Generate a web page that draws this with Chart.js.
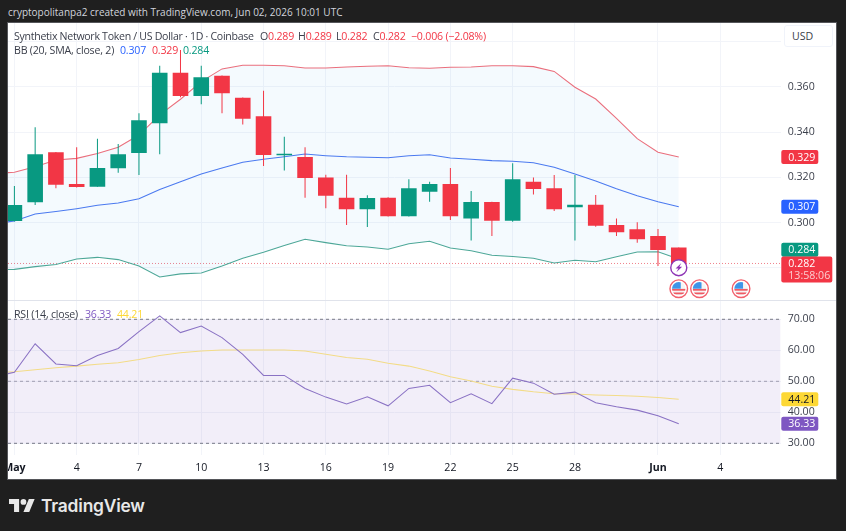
<!DOCTYPE html>
<html>
<head>
<meta charset="utf-8">
<title>SNX / USD</title>
<script src="https://cdn.jsdelivr.net/npm/chart.js@4"></script>
<style>
    html, body { margin: 0; padding: 0; background: #1f1f1f; }
    body { position: relative; width: 846px; height: 531px; overflow: hidden; font-family: 'Open Sans', sans-serif; }
    #panel { position: absolute; left: 8px; top: 23px; width: 828px; height: 456px; background: #fff; box-shadow: 0 0 0 1px #55565a; }
    canvas { position: absolute; left: 8px; }
    #chart_price { top: 23px; }
    #chart_rsi { top: 301px; }
    #divider { position: absolute; left: 8px; top: 300px; width: 828px; height: 1px; background: #e0e3eb; }
    .txt { position: absolute; white-space: nowrap; font-size: 10.6px; line-height: 14px; color: #3a3e4a; letter-spacing: -0.2px; }
    .red { color: #f23645; }
    .blue { color: #2962ff; }
    .green { color: #089981; }
    #banner { left: 8px; top: 5px; color: #d1d4dc; font-size: 10px; letter-spacing: 0; }
    #symbol { left: 14px; top: 29px; letter-spacing: -0.3px; }
    #usd { position: absolute; left: 784px; top: 25px; width: 49px; height: 22px; box-sizing: border-box; border: 1px solid #f0f3fa; border-radius: 3px; background: #fff; padding-left: 7px; font-size: 10.6px; line-height: 20px; color: #3a3e4a; }
    #logo { position: absolute; left: 9px; top: 499px; }
    #logo_text { position: absolute; left: 41px; top: 493px; font-family: Inter, sans-serif; font-weight: 600; font-size: 17.4px; line-height: 26px; color: #e8e8e8; letter-spacing: -0.2px; }
</style>
</head>
<body>
<div id="panel"></div>
<canvas id="chart_price" width="828" height="277"></canvas>
<div id="divider"></div>
<canvas id="chart_rsi" width="828" height="178"></canvas>

<div class="txt" id="banner">cryptopolitanpa2 created with TradingView.com, Jun 02, 2026 10:01 UTC</div>
<div class="txt" id="symbol">Synthetix Network Token / US Dollar · 1D · Coinbase</div>
<div class="txt" style="left:260px;top:29px">O<span class="red">0.289</span></div>
<div class="txt" style="left:298px;top:29px">H<span class="red">0.289</span></div>
<div class="txt" style="left:336px;top:29px">L<span class="red">0.282</span></div>
<div class="txt" style="left:373px;top:29px">C<span class="red">0.282</span></div>
<div class="txt red" style="left:411px;top:29px">−0.006 (−2.08%)</div>
<div class="txt" style="left:14px;top:43px">BB (20, SMA, close, 2)</div>
<div class="txt blue" style="left:120px;top:43px">0.307</div>
<div class="txt red" style="left:152px;top:43px">0.329</div>
<div class="txt green" style="left:183px;top:43px">0.284</div>
<div class="txt" style="left:14px;top:307px">RSI (14, close)</div>
<div class="txt" style="left:85px;top:307px;color:#7e57c2">36.33</div>
<div class="txt" style="left:117px;top:307px;color:#fdd835">44.21</div>
<div id="usd">USD</div>

<svg id="logo" width="26" height="13" viewBox="0 4 36 18"><g fill="#e8e8e8"><path d="M14 22H7V11H0V4h14v18zM28 22h-8l7.5-18h8L28 22z"/><circle cx="20" cy="8" r="4"/></g></svg>
<div id="logo_text">TradingView</div>

<script>
// Daily candles, 1 May to 2 Jun
const candleDays = [1, 2, 3, 4, 5, 6, 7, 8, 9, 10, 11, 12, 13, 14, 15, 16, 17, 18, 19, 20, 21, 22, 23, 24, 25, 26, 27, 28, 29, 30, 31, 32, 33]
const opens = [0.3008, 0.3090, 0.3311, 0.3171, 0.3159, 0.3240, 0.3308, 0.3439, 0.3662, 0.3559, 0.3649, 0.3552, 0.3470, 0.3298, 0.3290, 0.3200, 0.3110, 0.3059, 0.3110, 0.3028, 0.3137, 0.3171, 0.3018, 0.3091, 0.3009, 0.3181, 0.3152, 0.3068, 0.3079, 0.2990, 0.2971, 0.2941, 0.289]
const highs = [0.3162, 0.3421, 0.3312, 0.3333, 0.3371, 0.3347, 0.3483, 0.3693, 0.3762, 0.3693, 0.3650, 0.3553, 0.3583, 0.3380, 0.3333, 0.3212, 0.3212, 0.3121, 0.3112, 0.3192, 0.3181, 0.3241, 0.3140, 0.3092, 0.3262, 0.3200, 0.3211, 0.3211, 0.3122, 0.3019, 0.3002, 0.2972, 0.289]
const lows = [0.3005, 0.3078, 0.3152, 0.3155, 0.3159, 0.3221, 0.3211, 0.3302, 0.3554, 0.3523, 0.3483, 0.3434, 0.3250, 0.3230, 0.3110, 0.3064, 0.2990, 0.2981, 0.3027, 0.3027, 0.3093, 0.3012, 0.2921, 0.2941, 0.3004, 0.3125, 0.3052, 0.2921, 0.2982, 0.2941, 0.2912, 0.2809, 0.282]
const closes = [0.3078, 0.3302, 0.3168, 0.3158, 0.3241, 0.3302, 0.3452, 0.3662, 0.3559, 0.3642, 0.3571, 0.3459, 0.3299, 0.3304, 0.3197, 0.3119, 0.3059, 0.3109, 0.3028, 0.3152, 0.3171, 0.3028, 0.3091, 0.3009, 0.3192, 0.3149, 0.3059, 0.3079, 0.2987, 0.2958, 0.2927, 0.288, 0.282]

// Indicators start one day earlier so the lines run into the left edge
const lineDays = [0, 1, 2, 3, 4, 5, 6, 7, 8, 9, 10, 11, 12, 13, 14, 15, 16, 17, 18, 19, 20, 21, 22, 23, 24, 25, 26, 27, 28, 29, 30, 31, 32, 33]
const bbUpper = [0.3217, 0.3223, 0.3247, 0.3277, 0.3284, 0.3306, 0.3333, 0.3387, 0.3476, 0.3545, 0.3623, 0.3679, 0.3695, 0.3695, 0.3693, 0.3683, 0.3683, 0.3687, 0.3691, 0.3693, 0.3684, 0.3682, 0.3686, 0.3687, 0.3693, 0.3693, 0.3689, 0.3668, 0.3598, 0.3546, 0.3461, 0.3371, 0.3311, 0.329]
const bbBasis = [0.2994, 0.3008, 0.3038, 0.3049, 0.3062, 0.3077, 0.3087, 0.3106, 0.3147, 0.3181, 0.3215, 0.3242, 0.3267, 0.3280, 0.3291, 0.3303, 0.3296, 0.3291, 0.3289, 0.3287, 0.3296, 0.3300, 0.3286, 0.3280, 0.3274, 0.3271, 0.3265, 0.3245, 0.3215, 0.3184, 0.3150, 0.3119, 0.3093, 0.307]
const bbLower = [0.2791, 0.2794, 0.2806, 0.2815, 0.2840, 0.2847, 0.2837, 0.2809, 0.2760, 0.2774, 0.2778, 0.2809, 0.2843, 0.2869, 0.2899, 0.2927, 0.2912, 0.2898, 0.2893, 0.2883, 0.2907, 0.2918, 0.2888, 0.2876, 0.2856, 0.2851, 0.2843, 0.2822, 0.2834, 0.2828, 0.2850, 0.2871, 0.2872, 0.284]
const rsiValues = [51.5, 52.9, 62.1, 55.6, 55.0, 58.3, 60.6, 66.0, 71.1, 65.7, 67.8, 64.1, 58.7, 51.9, 51.9, 47.7, 44.9, 42.7, 45.0, 42.1, 47.7, 48.7, 43.1, 46.0, 42.8, 51.0, 49.4, 45.8, 46.5, 43.1, 41.8, 40.7, 38.9, 36.33]
const rsiMa = [52.8, 53.1, 53.7, 54.4, 54.9, 55.5, 56.0, 57.0, 58.3, 59.2, 59.8, 60.1, 60.1, 60.1, 60.1, 59.8, 58.7, 57.7, 57.1, 55.8, 54.9, 53.3, 51.5, 50.1, 48.4, 47.4, 46.6, 46.0, 45.9, 45.6, 45.4, 45.2, 44.8, 44.21]

// Axis ticks
const timeTicks = [1, 4, 7, 10, 13, 16, 19, 22, 25, 28, 32, 35]
const timeLabels = ['May', '4', '7', '10', '13', '16', '19', '22', '25', '28', 'Jun', '4']
const priceTicks = [0.28, 0.30, 0.32, 0.34, 0.36, 0.38]
const priceLabels = ['', '0.300', '0.320', '0.340', '0.360', '']
const rsiTicks = [30, 40, 50, 60, 70]

// Event markers along the time axis
const flagDays = [33, 34, 36]
const boltDay = 33

const GREEN = '#089981'
const RED = '#f23645'
const GRID = '#f2f4f9'
const TICK_COLOR = '#3a3e4a'
const FONT = "'Open Sans', sans-serif"
const FONT_SIZE = 10.6

const X_MIN = 0.692
const X_MAX = 37.91
const AXIS_WIDTH = 55.3

const toPoints = (xs, ys) => xs.map((x, i) => ({ x: x, y: ys[i] }))
const candleColors = candleDays.map((d, i) => closes[i] >= opens[i] ? GREEN : RED)

const noMargins = scale => {
    scale.paddingLeft = 0
    scale.paddingRight = 0
    scale.paddingTop = 0
    scale.paddingBottom = 0
}

const setTicks = values => scale => {
    scale.ticks = values.map(v => ({ value: v }))
}

const xAxis = (height, showLabels) => ({
    type: 'linear',
    offset: false,
    min: X_MIN,
    max: X_MAX,
    afterBuildTicks: setTicks(timeTicks),
    afterFit: scale => {
        noMargins(scale)
        scale.height = height
    },
    border: { display: false },
    grid: { color: GRID, drawTicks: false, offset: false },
    ticks: {
        display: showLabels,
        autoSkip: false,
        maxRotation: 0,
        padding: 7,
        color: '#131722',
        font: ctx => {
            const bold = ctx.tick && (ctx.tick.value === 1 || ctx.tick.value === 32)
            return { family: FONT, size: FONT_SIZE, weight: bold ? '700' : '400' }
        },
        callback: (value, index) => timeLabels[index]
    }
})

const yAxis = (min, max, values, format) => ({
    position: 'right',
    min: min,
    max: max,
    afterBuildTicks: setTicks(values),
    afterFit: scale => {
        noMargins(scale)
        scale.width = AXIS_WIDTH
    },
    border: { display: false },
    grid: { color: GRID, drawTicks: false },
    ticks: {
        autoSkip: false,
        padding: 7,
        color: TICK_COLOR,
        font: { family: FONT, size: FONT_SIZE },
        callback: format
    }
})

// Coloured price boxes in the right axis column
const axisTags = tags => ({
    id: 'axisTags',
    afterDraw(chart) {
        const ctx = chart.ctx
        const scale = chart.scales.y
        const left = chart.chartArea.right + 0.6
        ctx.save()
        ctx.font = `${FONT_SIZE}px ${FONT}`
        ctx.textBaseline = 'middle'
        tags.forEach(tag => {
            const y = scale.getPixelForValue(tag.value) + (tag.dy || 0)
            const w = tag.sub ? 51 : 37
            const h = tag.sub ? 26 : 14
            ctx.fillStyle = tag.color
            ctx.beginPath()
            ctx.roundRect(left, y - 7, w, h, 2)
            ctx.fill()
            ctx.fillStyle = tag.text
            ctx.fillText(tag.label, left + 7, y + 0.5)
            if (tag.sub) {
                ctx.fillStyle = 'rgba(255,255,255,0.75)'
                ctx.fillText(tag.sub, left + 7, y + 13)
            }
        })
        ctx.restore()
    }
})

// Small round event icons under the last candles
const eventMarks = {
    id: 'eventMarks',
    afterDatasetsDraw(chart) {
        const ctx = chart.ctx
        const xs = chart.scales.x
        const top = chart.chartArea.top
        ctx.save()
        flagDays.forEach(day => {
            const cx = xs.getPixelForValue(day)
            const cy = top + 265.7
            ctx.beginPath()
            ctx.arc(cx, cy, 8.8, 0, Math.PI * 2)
            ctx.fillStyle = '#fff'
            ctx.fill()
            ctx.strokeStyle = '#f2606c'
            ctx.lineWidth = 1.4
            ctx.stroke()
            ctx.save()
            ctx.beginPath()
            ctx.arc(cx, cy, 6.8, 0, Math.PI * 2)
            ctx.clip()
            ctx.fillStyle = '#f5f5f5'
            ctx.fillRect(cx - 7, cy - 7, 14, 14)
            ctx.fillStyle = '#ef5a64'
            ctx.fillRect(cx - 7, cy + 0.2, 14, 1.8)
            ctx.fillRect(cx - 7, cy + 3.8, 14, 1.8)
            ctx.fillStyle = '#3f95e8'
            ctx.fillRect(cx - 7, cy - 7, 9, 7)
            ctx.restore()
        })
        const bx = xs.getPixelForValue(boltDay)
        const by = top + 244.7
        ctx.beginPath()
        ctx.arc(bx, by, 8, 0, Math.PI * 2)
        ctx.fillStyle = '#fff'
        ctx.fill()
        ctx.strokeStyle = '#8e35b5'
        ctx.lineWidth = 1.4
        ctx.stroke()
        ctx.beginPath()
        ctx.moveTo(bx + 2.6, by - 4.6)
        ctx.lineTo(bx - 3.2, by + 0.8)
        ctx.lineTo(bx - 0.4, by + 0.8)
        ctx.lineTo(bx - 2.4, by + 4.6)
        ctx.lineTo(bx + 3.4, by - 0.9)
        ctx.lineTo(bx + 0.6, by - 0.9)
        ctx.closePath()
        ctx.fillStyle = '#8e35b5'
        ctx.fill()
        ctx.restore()
    }
}

const lineStyle = { type: 'line', borderWidth: 1.05, pointRadius: 0, tension: 0, fill: false }
const dashStyle = { ...lineStyle, borderWidth: 1, borderDash: [3, 3] }
const lastClose = closes[closes.length - 1]

new Chart(document.getElementById('chart_price'), {
    type: 'bar',
    data: {
        datasets: [
            { ...lineStyle, label: 'Upper', data: toPoints(lineDays, bbUpper), borderColor: '#ea6f7d', backgroundColor: 'rgba(33,150,243,0.05)', fill: '+2', order: 3 },
            { ...lineStyle, label: 'Basis', data: toPoints(lineDays, bbBasis), borderColor: '#4d78f0', order: 3 },
            { ...lineStyle, label: 'Lower', data: toPoints(lineDays, bbLower), borderColor: '#4fa896', order: 3 },
            { ...lineStyle, borderWidth: 1, label: 'Last', data: toPoints([X_MIN, X_MAX], [lastClose, lastClose]), borderColor: '#f0808a', borderDash: [1, 2], order: 4 },
            { label: 'Wick', data: candleDays.map((d, i) => ({ x: d, y: [lows[i], highs[i]] })), backgroundColor: candleColors, barThickness: 1, grouped: false, inflateAmount: 0, order: 2 },
            { label: 'Body', data: candleDays.map((d, i) => ({ x: d, y: [opens[i], closes[i]] })), backgroundColor: candleColors, barThickness: 15.6, grouped: false, inflateAmount: 0, order: 1 }
        ]
    },
    options: {
        responsive: false,
        animation: false,
        devicePixelRatio: 1,
        layout: { padding: 0 },
        plugins: {
            legend: { display: false },
            tooltip: { enabled: false }
        },
        scales: {
            x: xAxis(0, false),
            y: yAxis(0.26587, 0.38817, priceTicks, (value, index) => priceLabels[index])
        }
    },
    plugins: [axisTags([
        { value: bbUpper[bbUpper.length - 1], label: '0.329', color: RED, text: '#fff' },
        { value: bbBasis[bbBasis.length - 1], label: '0.307', color: '#2962ff', text: '#fff' },
        { value: bbLower[bbLower.length - 1], label: '0.284', color: GREEN, text: '#fff', dy: -9.3 },
        { value: lastClose, label: '0.282', sub: '13:58:06', color: RED, text: '#fff' }
    ]), eventMarks]
})

new Chart(document.getElementById('chart_rsi'), {
    type: 'line',
    data: {
        datasets: [
            { ...dashStyle, label: 'Upper band', data: toPoints([X_MIN, X_MAX], [70, 70]), borderColor: '#787b86', backgroundColor: 'rgba(126,87,194,0.1)', fill: '+1', order: 3 },
            { ...dashStyle, label: 'Lower band', data: toPoints([X_MIN, X_MAX], [30, 30]), borderColor: '#787b86', order: 3 },
            { ...dashStyle, label: 'Middle band', data: toPoints([X_MIN, X_MAX], [50, 50]), borderColor: '#a3a6af', order: 3 },
            { ...lineStyle, label: 'RSI MA', data: toPoints(lineDays, rsiMa), borderColor: '#f3dc88', order: 2 },
            { ...lineStyle, label: 'RSI', data: toPoints(lineDays, rsiValues), borderColor: '#8a72c4', order: 1 }
        ]
    },
    options: {
        responsive: false,
        animation: false,
        devicePixelRatio: 1,
        layout: { padding: 0 },
        plugins: {
            legend: { display: false },
            tooltip: { enabled: false }
        },
        scales: {
            x: xAxis(24, true),
            y: yAxis(26.23, 75.9, rsiTicks, value => value.toFixed(2))
        }
    },
    plugins: [axisTags([
        { value: rsiMa[rsiMa.length - 1], label: '44.21', color: '#fdd835', text: '#131722' },
        { value: rsiValues[rsiValues.length - 1], label: '36.33', color: '#7e57c2', text: '#fff' }
    ])]
})
</script>
</body>
</html>
